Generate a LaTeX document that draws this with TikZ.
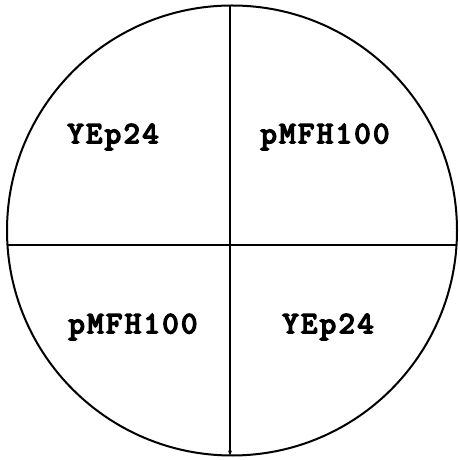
\documentclass[tikz,border=0pt]{standalone}
\usepackage{fontspec}
\newfontfamily\platefont[FakeBold=5, LetterSpace=8]{lmmono10-regular.otf}
\usepackage{tikz}
\usetikzlibrary{arrows.meta}

\begin{document}
\begin{tikzpicture}[x=1pt, y=1pt]
                \tikzset{plate/.style={line width=2pt},
                         strain/.style={font=\fontsize{31}{31}\platefont\bfseries}}
                \useasboundingbox (0,0) rectangle (459,460);
                
                % plate outline
                \draw[plate] (232,229.5) circle[radius=225];
                
                % dividing lines
                \coordinate (top) at (230,454.3);
                \coordinate (bot) at (230,4.6);
                \coordinate (left) at (7.6,215);
                \coordinate (right) at (456.4,215);
                \draw[plate, -{Stealth[length=5pt,width=4pt]}] (top) -- (bot);
                \draw[plate] (left) -- (right);
                
                % strains in the quarters
                \node[strain] (ul) at (113,323) {YEp24};
                \node[strain] (ur) at (325,323) {pMFH100};
                \node[strain] (ll) at (133,133) {pMFH100};
                \node[strain] (lr) at (328,133) {YEp24};
            \end{tikzpicture}
\end{document}
